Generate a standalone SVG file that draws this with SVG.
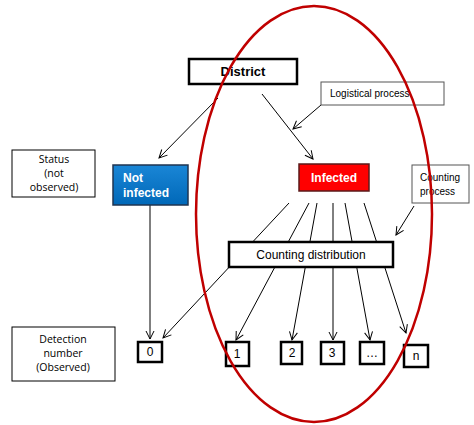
<svg xmlns="http://www.w3.org/2000/svg" width="474" height="425" viewBox="0 0 474 425">
<defs>
<marker id="arr" markerWidth="10" markerHeight="10" refX="9" refY="5" orient="auto" markerUnits="userSpaceOnUse">
<path d="M1,1 L9,5 L1,9" fill="none" stroke="#000" stroke-width="1"/>
</marker>
<linearGradient id="blue" x1="0" y1="0" x2="0" y2="1">
<stop offset="0" stop-color="#1a86d6"/>
<stop offset="1" stop-color="#0068b8"/>
</linearGradient>
</defs>
<style>
.conn{stroke:#000;stroke-width:1;fill:none}
.arrow{marker-end:url(#arr)}
.thick{fill:#fff;stroke:#000;stroke-width:2.5}
.thin{fill:#fff;stroke:#000;stroke-width:1}
.grey{fill:#fff;stroke:#555;stroke-width:1}
.lbl{font-family:"Liberation Sans",Arial,sans-serif;fill:#000}
.cal{font-family:"Open Sans","Liberation Sans",sans-serif;font-size:10.5px;fill:#000;text-anchor:middle}
.wb{font-family:"Liberation Sans",Arial,sans-serif;font-weight:bold;fill:#fff;font-size:12px}
</style>
<rect width="474" height="425" fill="#fff"/>

<g id="connectors">
<line class="conn arrow" x1="218" y1="98" x2="159" y2="158"/>
<line class="conn arrow" x1="262" y1="94" x2="313" y2="159"/>
<line class="conn arrow" x1="321" y1="105" x2="293" y2="129"/>
<line class="conn arrow" x1="414" y1="206" x2="396" y2="235"/>
<line class="conn arrow" x1="150" y1="197" x2="150" y2="339"/>
<line class="conn arrow" x1="289" y1="203" x2="163" y2="338"/>
<line class="conn arrow" x1="309" y1="203" x2="236" y2="340"/>
<line class="conn arrow" x1="317" y1="203" x2="292" y2="340"/>
<line class="conn arrow" x1="333" y1="203" x2="333" y2="340"/>
<line class="conn arrow" x1="345" y1="203" x2="370" y2="340"/>
<line class="conn arrow" x1="364" y1="203" x2="406" y2="333"/>
</g>

<g id="district">
<rect class="thick" x="189" y="59" width="108" height="25"/>
<text class="lbl" x="243" y="76" font-size="13" font-weight="bold" text-anchor="middle">District</text>
</g>

<g id="logistical">
<rect class="grey" x="321" y="82" width="123" height="23"/>
<text class="lbl" x="330" y="97" font-size="10">Logistical process</text>
</g>

<g id="status">
<rect class="thin" x="12" y="150" width="83" height="47"/>
<text class="cal" x="54" y="163">Status</text>
<text class="cal" x="54" y="177">(not</text>
<text class="cal" x="54" y="191">observed)</text>
</g>

<g id="not-infected">
<rect x="113" y="165" width="75" height="40" fill="url(#blue)" stroke="#1f3550" stroke-width="1.5"/>
<text class="wb" x="123" y="182">Not</text>
<text class="wb" x="123" y="197">infected</text>
</g>

<g id="infected">
<rect x="299" y="164" width="70" height="27" fill="#ff0000" stroke="#5a1a1a" stroke-width="1.5"/>
<text class="wb" x="334" y="182" text-anchor="middle">Infected</text>
</g>

<g id="counting-process">
<rect class="grey" x="412" y="165" width="57" height="38"/>
<text class="lbl" x="420" y="181" font-size="10">Counting</text>
<text class="lbl" x="420" y="195" font-size="10">process</text>
</g>

<g id="counting-distribution">
<rect class="thick" x="229" y="242" width="164" height="25"/>
<text class="lbl" x="311" y="259" font-size="12" text-anchor="middle">Counting distribution</text>
</g>

<g id="detection">
<rect class="thin" x="12" y="327" width="103" height="54"/>
<text class="cal" x="63" y="343">Detection</text>
<text class="cal" x="63" y="357">number</text>
<text class="cal" x="63" y="371">(Observed)</text>
</g>

<g id="n0">
<rect class="thick" x="138" y="342" width="24" height="20"/>
<text class="lbl" x="150" y="356" font-size="12" text-anchor="middle">0</text>
</g>
<g id="n1">
<rect class="thick" x="226" y="342" width="23" height="24"/>
<text class="lbl" x="237" y="358" font-size="12" text-anchor="middle">1</text>
</g>
<g id="n2">
<rect class="thick" x="281" y="342" width="21" height="22"/>
<text class="lbl" x="292" y="357" font-size="12" text-anchor="middle">2</text>
</g>
<g id="n3">
<rect class="thick" x="321" y="342" width="23" height="22"/>
<text class="lbl" x="332" y="357" font-size="12" text-anchor="middle">3</text>
</g>
<g id="ndots">
<rect class="thick" x="360" y="342" width="24" height="22"/>
<text class="lbl" x="372" y="357" font-size="12" text-anchor="middle">…</text>
</g>
<g id="nn">
<rect class="thick" x="404" y="345" width="24" height="22"/>
<text class="lbl" x="416" y="360" font-size="12" text-anchor="middle">n</text>
</g>

<g id="ellipse">
<ellipse cx="314" cy="214" rx="118" ry="208" fill="none" stroke="#c00000" stroke-width="2.5"/>
</g>
</svg>
